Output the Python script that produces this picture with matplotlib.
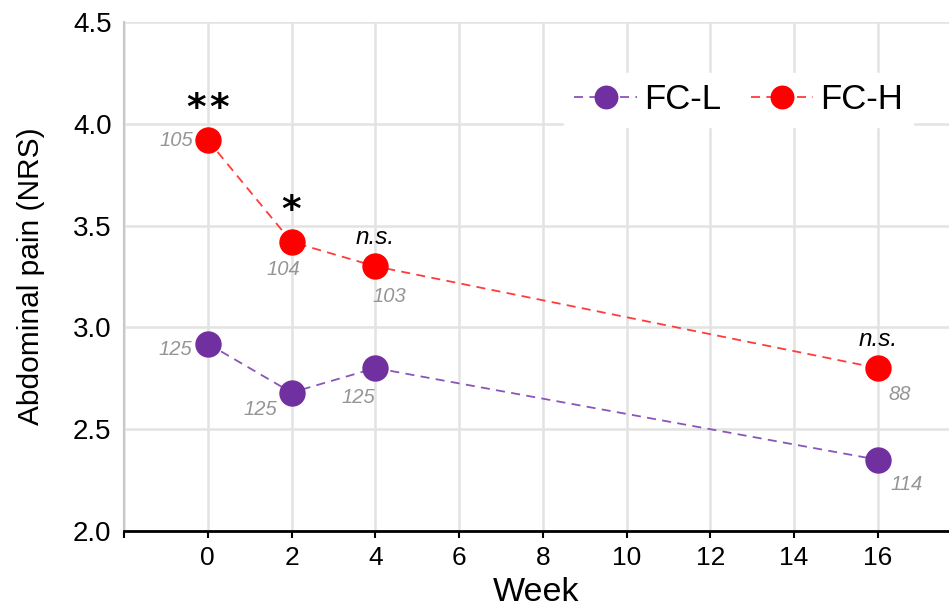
import matplotlib.pyplot as plt

plt.rcParams['font.family'] = ['Liberation Sans', 'DejaVu Sans']

# data
weeks = [0, 2, 4, 16]
fc_l = [2.92, 2.68, 2.80, 2.35]
fc_h = [3.92, 3.42, 3.30, 2.80]
n_l = ['125', '125', '125', '114']
n_h = ['105', '104', '103', '88']
sig = ['**', '*', 'n.s.', 'n.s.']

purple = '#7030A0'
red = '#FF0000'

fig = plt.figure(figsize=(9.49, 6.13), dpi=100)
ax = fig.add_axes([0.1307, 0.1338, 0.8693, 0.8303])

ax.plot(weeks, fc_l, linestyle=(0, (5, 3.5)), lw=1.3, color='#8A55B8',
        marker='o', ms=18, mfc=purple, mec=purple, label='FC-L', zorder=3)
ax.plot(weeks, fc_h, linestyle=(0, (5, 3.5)), lw=1.3, color='#FF3B3B',
        marker='o', ms=18, mfc=red, mec=red, label='FC-H', zorder=3)

# sample size labels (offsets in pixels)
off_h = [(-31, 0), (-8, -28), (14, -30), (22, -26)]
off_l = [(-32, -6), (-31, -17), (-17, -29), (29, -25)]
for x, y, t, o in zip(weeks, fc_h, n_h, off_h):
    ax.annotate(t, (x, y), xytext=o, textcoords='offset pixels', ha='center', va='center',
                fontsize=14.5, style='italic', color='#959595')
for x, y, t, o in zip(weeks, fc_l, n_l, off_l):
    ax.annotate(t, (x, y), xytext=o, textcoords='offset pixels', ha='center', va='center',
                fontsize=14.5, style='italic', color='#959595')

# significance marks
for x, y, s in zip(weeks, fc_h, sig):
    if s.startswith('*'):
        k = len(s)
        for i in range(k):
            dx = (i - (k - 1) / 2) * 23
            ax.annotate('*', (x, y), xytext=(dx, 31), textcoords='offset pixels', ha='center',
                        va='center', fontsize=27, fontweight='bold', family='DejaVu Sans')
    else:
        ax.annotate(s, (x, y), xytext=(0, 29), textcoords='offset pixels', ha='center',
                    va='center', fontsize=17.5, style='italic')

ax.set_xlim(-2, 17.7)
ax.set_ylim(2.0, 4.5)
ax.set_xticks(range(-2, 18, 2))
ax.set_xticklabels([''] + [str(w) for w in range(0, 18, 2)])
ax.set_yticks([2.0, 2.5, 3.0, 3.5, 4.0, 4.5])
ax.set_yticklabels(['2.0', '2.5', '3.0', '3.5', '4.0', '4.5'])
ax.tick_params(axis='x', direction='out', length=5, width=1.5, labelsize=19, pad=6)
ax.tick_params(axis='y', length=0, labelsize=20, pad=9)

ax.grid(True, color='#E3E3E3', lw=1.8)
ax.set_axisbelow(True)
for s in ['top', 'right']:
    ax.spines[s].set_visible(False)
ax.spines['left'].set_color('#C8C8C8')
ax.spines['left'].set_linewidth(1.5)
ax.spines['bottom'].set_color('black')
ax.spines['bottom'].set_linewidth(2)

ax.set_xlabel('Week', fontsize=24.5, labelpad=5)
ax.set_ylabel('Abdominal pain (NRS)', fontsize=21.5, labelpad=20)

leg = ax.legend(loc='center', bbox_to_anchor=(0.745, 0.847), ncol=2, fontsize=25,
                frameon=True, fancybox=False, edgecolor='white', framealpha=1,
                markerscale=0.9, handlelength=1.8, columnspacing=0.85, handletextpad=0.2,
                borderpad=0.3)

fig.savefig('out.png', dpi=100)
